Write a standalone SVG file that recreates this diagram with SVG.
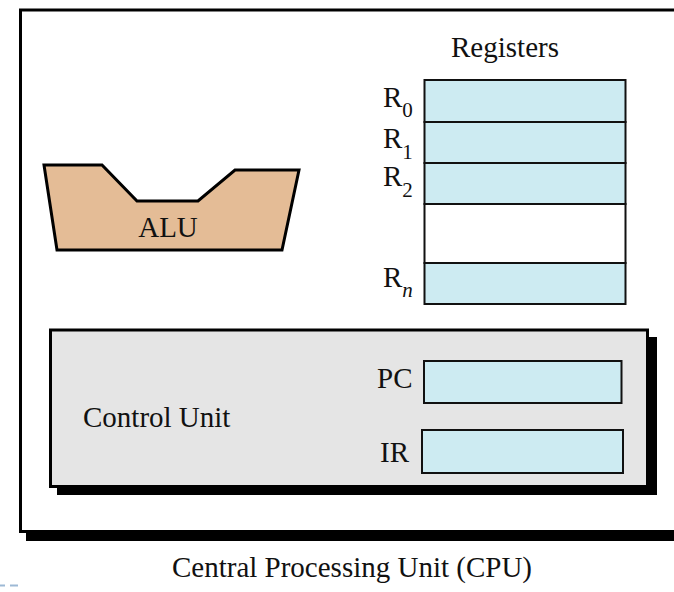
<svg xmlns="http://www.w3.org/2000/svg" width="674" height="592" viewBox="0 0 674 592">
<style>
text{font-family:"Liberation Serif","Times New Roman",serif;font-size:29px;fill:#111}
.sub{font-size:21px}
.reg{fill:#cdebf2;stroke:#111;stroke-width:2}
.shadow{fill:#000}
</style>
<rect width="674" height="592" fill="#fff"/>
<g id="cpu">
<rect class="shadow" x="26" y="18" width="680" height="523"/>
<rect x="20.5" y="10" width="680" height="521.5" fill="#fff" stroke="#000" stroke-width="3"/>
<text x="352" y="577" text-anchor="middle">Central Processing Unit (CPU)</text>
</g>
<g id="alu">
<polygon points="44,165 102,165 137,201 198,201 235,170 299,170 282,250 57,250" fill="#e4bc96" stroke="#000" stroke-width="3" stroke-linejoin="miter"/>
<text x="168" y="237" text-anchor="middle">ALU</text>
</g>
<g id="registers">
<text x="505" y="57" text-anchor="middle">Registers</text>
<rect class="reg" x="424.5" y="80" width="201" height="42"/>
<rect class="reg" x="424.5" y="122" width="201" height="41"/>
<rect class="reg" x="424.5" y="163" width="201" height="41"/>
<rect x="424.5" y="204" width="201" height="59" fill="#fff" stroke="#111" stroke-width="2"/>
<rect class="reg" x="424.5" y="263" width="201" height="41"/>
<text x="383" y="107">R<tspan class="sub" dy="10">0</tspan></text>
<text x="383" y="148">R<tspan class="sub" dy="11">1</tspan></text>
<text x="383" y="186">R<tspan class="sub" dy="11">2</tspan></text>
<text x="383" y="287">R<tspan class="sub" dy="10" font-style="italic">n</tspan></text>
</g>
<g id="control-unit">
<rect class="shadow" x="57" y="337" width="600" height="158"/>
<rect x="50.5" y="330" width="597" height="156.5" fill="#e5e5e5" stroke="#000" stroke-width="3"/>
<text x="83" y="427">Control Unit</text>
<text x="377" y="388">PC</text>
<rect class="reg" x="424" y="361" width="197.5" height="42"/>
<text x="380" y="462">IR</text>
<rect class="reg" x="422" y="430" width="201" height="43"/>
</g>
<g id="connectors">
<line x1="0" y1="585.5" x2="5" y2="585.5" stroke="#9db9d5" stroke-width="2"/>
<line x1="10" y1="585.5" x2="18" y2="585.5" stroke="#9db9d5" stroke-width="2"/>
</g>
</svg>
